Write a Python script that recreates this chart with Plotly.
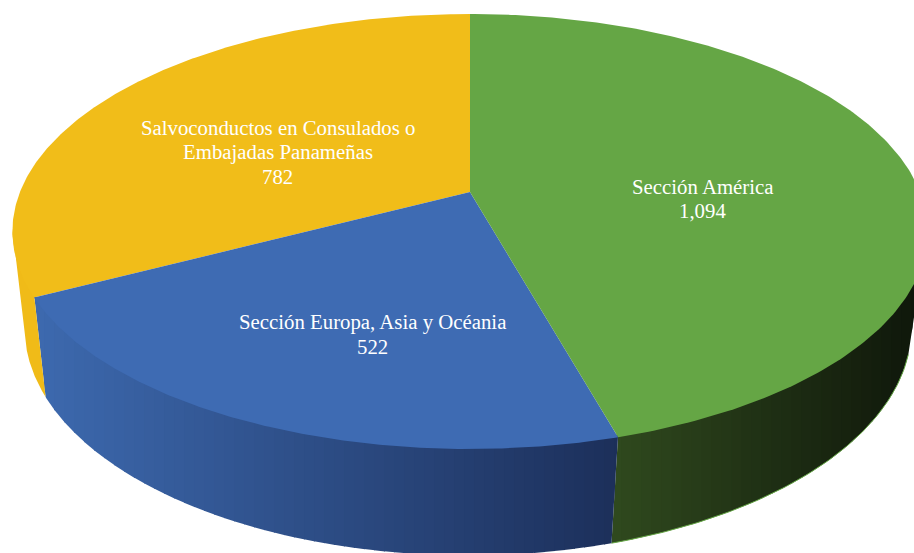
import numpy as np
import plotly.graph_objects as go

categories = [["Sección América"], ["Sección Europa, Asia y Océania"],
              ["Salvoconductos en Consulados o", "Embajadas Panameñas"]]
values = [1094, 522, 782]
top_colors = ["#65A645", "#3E6BB3", "#F1BD19"]
# side shade: colour at left and right of the wedge on screen
side_left = [(48, 74, 30), (61, 105, 175), (240, 187, 24)]
side_right = [(14, 21, 10), (28, 47, 90), (240, 187, 24)]
label_xy = [(702, 186), (372.5, 322), (277.5, 127)]
LINE_STEP = 24.5

# Projection of the disc (u right, v back) onto the page
TOP = dict(cx=470, cy=192, A=450, B=210.3, k=0.1816)
BOTTOM = dict(cx=468, cy=286.6, A=436, B=220, k=0.1816)
# Rim silhouette angles (degrees clockwise from 12 o'clock)
TOP_R, TOP_L, BOT_R, BOT_L = 100.4, 259.6, 107, 254
STRIP = 10
TUCK = 3  # how far the side reaches under the top face


def project(theta, p):
    u, v = np.sin(theta), np.cos(theta)
    d = 1 + p["k"] * v
    return p["cx"] + p["A"] * u / d, p["cy"] - p["B"] * v / d


def rgb(c):
    return "rgb(%d,%d,%d)" % tuple(int(round(x)) for x in c)


def clip(pts, xlim, keep_right):
    out = []
    sign = 1 if keep_right else -1
    for i in range(len(pts)):
        a, b = pts[i], pts[(i + 1) % len(pts)]
        ina, inb = sign * (a[0] - xlim) >= 0, sign * (b[0] - xlim) >= 0
        if ina:
            out.append(a)
        if ina != inb:
            t = (xlim - a[0]) / (b[0] - a[0])
            out.append((xlim, a[1] + t * (b[1] - a[1])))
    return out


fracs = np.array(values) / sum(values)
edges = np.concatenate([[0], np.cumsum(fracs)]) * 2 * np.pi
fig = go.Figure()


def poly(x, y, color):
    fig.add_trace(go.Scatter(x=np.r_[x, x[0]], y=np.r_[y, y[0]], mode="lines", fill="toself", fillcolor=color,
                             line=dict(width=0), hoverinfo="skip", showlegend=False))


# Sides: each wedge's rim, cut in vertical strips for the shading
for i in range(3):
    t0 = max(edges[i], np.radians(TOP_R))
    t1 = min(edges[i + 1], np.radians(TOP_L))
    b0 = max(edges[i], np.radians(BOT_R))
    b1 = min(edges[i + 1], np.radians(BOT_L))
    xt, yt = project(np.linspace(t0, t1, 200), TOP)
    xb, yb = project(np.linspace(b0, b1, 200), BOTTOM)
    pts = list(zip(np.r_[xt, xb[::-1]], np.r_[yt - TUCK, yb[::-1]]))
    xs = [p[0] for p in pts]
    xmin, xmax = min(xs), max(xs)
    if side_left[i] == side_right[i]:
        poly(np.array(xs), np.array([p[1] for p in pts]), rgb(side_left[i]))
        continue
    x0 = xmin
    while x0 < xmax:
        # each strip reaches under the next one so that no seam shows
        piece = clip(clip(pts, x0, True), x0 + STRIP + 1, False)
        if len(piece) > 2:
            f = (x0 + STRIP / 2 - xmin) / (xmax - xmin)
            col = np.array(side_left[i]) * (1 - f) + np.array(side_right[i]) * f
            poly(np.array([p[0] for p in piece]), np.array([p[1] for p in piece]), rgb(col))
        x0 += STRIP

# Thin green rim under the green wedge
xb, yb = project(np.linspace(np.radians(BOT_R), edges[1], 120), BOTTOM)
fig.add_trace(go.Scatter(x=xb, y=yb, mode="lines", line=dict(color="#65A645", width=1), hoverinfo="skip", showlegend=False))

# Tops
for i in [2, 1, 0]:
    x, y = project(np.linspace(edges[i], edges[i + 1], 240), TOP)
    poly(np.r_[TOP["cx"], x], np.r_[TOP["cy"], y], top_colors[i])

for lines, val, (lx, ly) in zip(categories, values, label_xy):
    for n, txt in enumerate(lines + [f"{val:,}"]):
        fig.add_annotation(x=lx, y=ly + n * LINE_STEP, text=txt, showarrow=False, xanchor="center", yanchor="middle",
                           font=dict(family="Liberation Serif", size=20.8, color="white"))

fig.update_layout(width=914, height=553, margin=dict(l=0, r=0, t=0, b=0), paper_bgcolor="white", plot_bgcolor="white",
                  showlegend=False, xaxis=dict(range=[0, 914], visible=False, fixedrange=True),
                  yaxis=dict(range=[553, 0], visible=False, fixedrange=True))
fig.write_html("out.html", config={"displayModeBar": False},
               post_script="document.body.style.margin='0';document.body.style.overflow='hidden';")
